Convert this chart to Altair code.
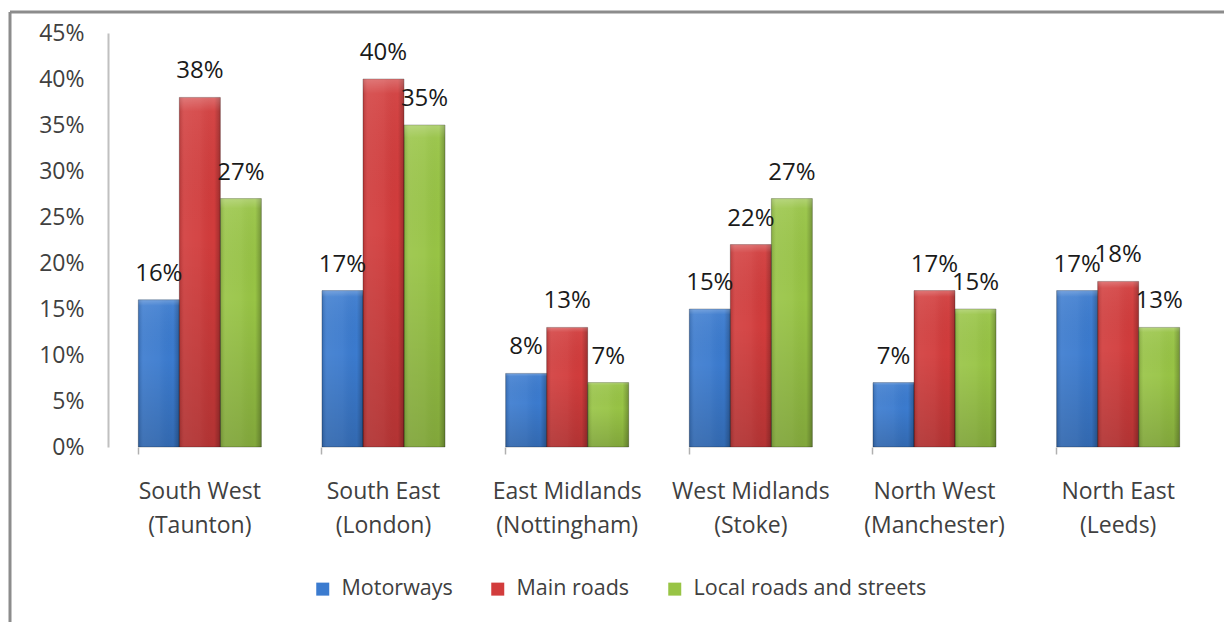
import altair as alt
import pandas as pd

regions = ["South West|(Taunton)", "South East|(London)", "East Midlands|(Nottingham)",
           "West Midlands|(Stoke)", "North West|(Manchester)", "North East|(Leeds)"]
series = ["Motorways", "Main roads", "Local roads and streets"]
motorways = [16, 17, 8, 15, 7, 17]
main_roads = [38, 40, 13, 22, 17, 18]
local_roads = [27, 35, 7, 27, 15, 13]
y_ticks = [0, 5, 10, 15, 20, 25, 30, 35, 40, 45]
colors = ["#3b7bcf", "#d23c3c", "#98c445"]

rows = []
for name, vals in zip(series, [motorways, main_roads, local_roads]):
    for r, v in zip(regions, vals):
        rows.append({"region": r, "series": name, "value": v})
df = pd.DataFrame(rows)

FONT = "Open Sans"

x_enc = alt.X("region:N", sort=regions,
              scale=alt.Scale(paddingInner=0.33, paddingOuter=0.165),
              axis=alt.Axis(title=None, labelExpr="split(datum.label, '|')", labelAngle=0,
                            labelFont=FONT, labelFontSize=23, labelColor="#404040",
                            labelLineHeight=34, domain=False, ticks=True, tickSize=7,
                            tickColor="#b0b0b0", tickWidth=1.5, bandPosition=0,
                            labelPadding=26))
xo_enc = alt.XOffset("series:N", sort=series, scale=alt.Scale(paddingInner=0, paddingOuter=0))
y_enc = alt.Y("value:Q", scale=alt.Scale(domain=[0, 45], nice=False),
              axis=alt.Axis(values=y_ticks, labelExpr="datum.value + '%'", title=None,
                            grid=False, ticks=False, tickSize=0, domainColor="#c0c0c0",
                            domainWidth=2, labelFont=FONT, labelFontSize=23,
                            labelColor="#404040", labelPadding=24))

base = alt.Chart(df).encode(x=x_enc, xOffset=xo_enc, y=y_enc)

bars = base.mark_bar().encode(
    color=alt.Color("series:N", sort=series,
                    scale=alt.Scale(domain=series, range=colors),
                    legend=alt.Legend(title=None, orient="none", direction="horizontal",
                                      legendX=204, legendY=545, symbolType="square",
                                      symbolSize=169, symbolStrokeWidth=0,
                                      labelFont=FONT, labelFontSize=21.5,
                                      labelColor="#404040", labelOffset=8,
                                      labelLimit=0, columnPadding=34))
)

shade_h = base.mark_bar(
    color=alt.Gradient(gradient="linear", x1=0, x2=1, y1=0, y2=0, stops=[
        alt.GradientStop(color="rgba(0,0,0,0.15)", offset=0),
        alt.GradientStop(color="rgba(255,255,255,0.08)", offset=0.12),
        alt.GradientStop(color="rgba(255,255,255,0.05)", offset=0.5),
        alt.GradientStop(color="rgba(0,0,0,0.0)", offset=0.85),
        alt.GradientStop(color="rgba(0,0,0,0.25)", offset=1),
    ]),
    stroke="rgba(0,0,0,0.25)", strokeWidth=1
)

shade_v = base.mark_bar(
    color=alt.Gradient(gradient="linear", x1=0, x2=0, y1=0, y2=1, stops=[
        alt.GradientStop(color="rgba(255,255,255,0.25)", offset=0),
        alt.GradientStop(color="rgba(255,255,255,0.05)", offset=0.04),
        alt.GradientStop(color="rgba(0,0,0,0.0)", offset=0.4),
        alt.GradientStop(color="rgba(0,0,0,0.15)", offset=1),
    ])
)

labels = base.transform_calculate(lbl="datum.value + '%'").mark_text(
    font=FONT, fontSize=24, color="#1a1a1a", baseline="alphabetic", dy=-19
).encode(text="lbl:N")

frame_left = alt.Chart(alt.Data(values=[{}])).mark_rule(color="#8c8c8c", strokeWidth=3).encode(
    x=alt.value(-98), y=alt.value(-21), y2=alt.value(600))
frame_top = alt.Chart(alt.Data(values=[{}])).mark_rule(color="#8c8c8c", strokeWidth=3).encode(
    x=alt.value(-98), x2=alt.value(1120), y=alt.value(-21))

chart = alt.layer(bars, shade_h, shade_v, labels, frame_left, frame_top).properties(
    width=1102, height=414,
    autosize=alt.AutoSizeParams(type="none"),
    padding={"left": 100, "top": 25, "right": 14, "bottom": 175},
    background="white"
).configure_view(stroke=None)

chart.save("out.html", embed_options={"renderer": "svg", "actions": False})
